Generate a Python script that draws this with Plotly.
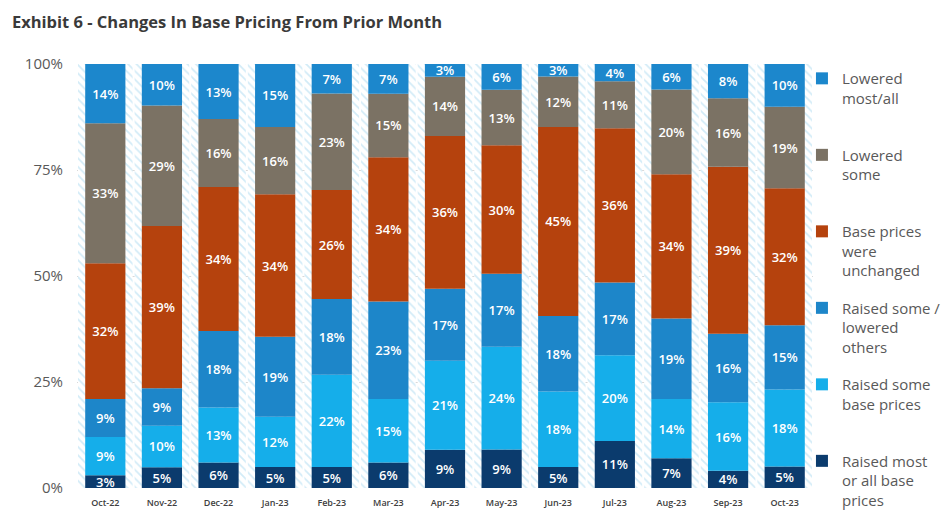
import plotly.graph_objects as go

months = ["Oct-22", "Nov-22", "Dec-22", "Jan-23", "Feb-23", "Mar-23", "Apr-23",
          "May-23", "Jun-23", "Jul-23", "Aug-23", "Sep-23", "Oct-23"]

raised_most_all = [3, 5, 6, 5, 5, 6, 9, 9, 5, 11, 7, 4, 5]
raised_some = [9, 10, 13, 12, 22, 15, 21, 24, 18, 20, 14, 16, 18]
raised_some_lowered_others = [9, 9, 18, 19, 18, 23, 17, 17, 18, 17, 19, 16, 15]
unchanged = [32, 39, 34, 34, 26, 34, 36, 30, 45, 36, 34, 39, 32]
lowered_some = [33, 29, 16, 16, 23, 15, 14, 13, 12, 11, 20, 16, 19]
lowered_most_all = [14, 10, 13, 15, 7, 7, 3, 6, 3, 4, 6, 8, 10]

y_ticks = [0, 25, 50, 75, 100]
y_tick_labels = ["0%", "25%", "50%", "75%", "100%"]

series = [
    ("Raised most<br>or all base<br>prices", raised_most_all, "#0b3b6d"),
    ("Raised some<br>base prices<br> ", raised_some, "#15aeea"),
    ("Raised some /<br>lowered<br>others", raised_some_lowered_others, "#1d86c9"),
    ("Base prices<br>were<br>unchanged", unchanged, "#b5420d"),
    ("Lowered<br>some<br> ", lowered_some, "#7b7264"),
    ("Lowered<br>most/all<br> ", lowered_most_all, "#1c87cc"),
]

totals = [sum(s[1][i] for s in series) for i in range(len(months))]

fig = go.Figure()

# hatched background columns
fig.add_trace(go.Bar(
    x=months, y=[100] * len(months), base=[0] * len(months), width=0.965,
    marker=dict(color="white", line=dict(width=0),
                pattern=dict(shape="\\", fgcolor="#a6d8f0", bgcolor="white",
                             size=6, solidity=0.3)),
    showlegend=False, hoverinfo="skip",
))

cum = [0.0] * len(months)
n = len(series)
for k, (name, vals, color) in enumerate(series):
    share = [v / t * 100 for v, t in zip(vals, totals)]
    fig.add_trace(go.Bar(
        x=months, y=share, base=list(cum), width=0.71, name=name,
        marker=dict(color=color, line=dict(width=0)),
        text=[f"{v}%" for v in vals], texttemplate="%{text}",
        textposition="inside", insidetextanchor="middle", textangle=0,
        constraintext="none",
        textfont=dict(family="Open Sans", size=13, color="white", weight=600),
        legendgroup=name, legendrank=n - k,
    ))
    cum = [c + s for c, s in zip(cum, share)]

fig.update_layout(
    width=943, height=518,
    barmode="overlay",
    paper_bgcolor="white", plot_bgcolor="white",
    margin=dict(l=69, r=138, t=56, b=38, autoexpand=False),
    title=dict(text="<b>Exhibit 6 - Changes In Base Pricing From Prior Month</b>",
               x=0.0042, xanchor="left", y=0.973, yanchor="middle",
               font=dict(family="Open Sans", size=16.5, color="#3a3a3a")),
    legend=dict(x=0.985, xanchor="left", y=1.0045, yanchor="top",
                traceorder="grouped", tracegroupgap=15, maxheight=600,
                valign="top", font=dict(family="Open Sans", size=15, color="#595959"),
                bgcolor="rgba(0,0,0,0)", itemclick=False),
    xaxis=dict(type="category", range=[-0.5, 12.5], showgrid=False,
               tickfont=dict(family="Open Sans", size=9, color="#404040", weight=600),
               ticks="", showline=False, ticklabelstandoff=8),
    yaxis=dict(range=[0, 100], tickvals=y_ticks, ticktext=y_tick_labels,
               tickfont=dict(family="Open Sans", size=15, color="#595959"),
               showgrid=True, gridcolor="#d9d9d9", zeroline=False, ticklabelstandoff=13),
)

fig.write_html("out.html")
